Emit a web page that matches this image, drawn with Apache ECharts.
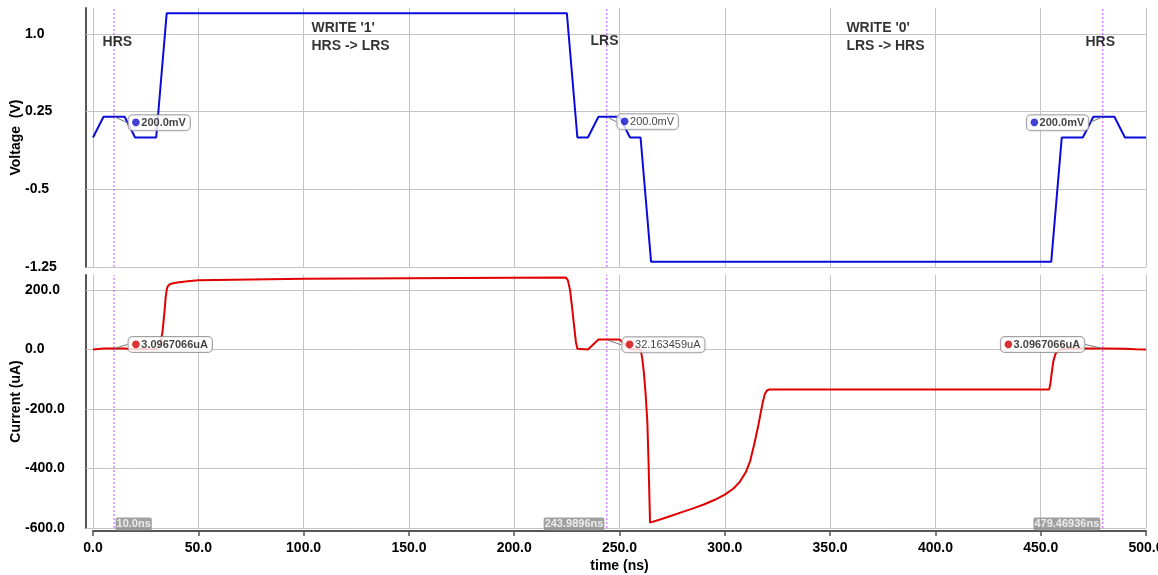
<!DOCTYPE html>
<html>
<head>
<meta charset="utf-8">
<script src="https://cdn.jsdelivr.net/npm/echarts@6/dist/echarts.min.js"></script>
<style>
    html, body { margin: 0; background: #fff; }
    #chart { width: 1158px; height: 575px; }
</style>
</head>
<body>
<div id="chart"></div>
<script>
(function () {
    'use strict';

    // voltage waveform (V) vs time (ns)
    var vTime = [0, 5, 15, 20, 30, 35, 225, 230, 235, 240, 250, 255, 260, 265, 455, 460, 470, 475, 485, 490, 500];
    var vVolt = [0, 0.2, 0.2, 0, 0, 1.2, 1.2, 0, 0, 0.2, 0.2, 0, 0, -1.2, -1.2, 0, 0, 0.2, 0.2, 0, 0];

    // current waveform (uA) vs time (ns)
    var iTime = [0, 5, 15, 20, 30, 31, 32, 33, 34, 34.5, 35, 35.5, 36.5, 38, 40, 45, 50, 100, 150, 200, 224.5,
        225.5, 226.5, 227.5, 228.5, 229.3, 230, 235, 240, 250, 255, 260, 260.8, 261.6, 262.4, 263.2, 263.8, 264.5,
        270, 275, 280, 285, 290, 295, 300, 304, 307, 310, 312, 314, 316, 318, 319, 320, 321,
        454, 454.6, 455.3, 456, 457, 458.5, 460, 470, 480, 490, 495, 500];
    var iCurr = [0, 3.1, 3.1, 0.5, 1, 5, 20, 60, 130, 175, 200, 212, 219, 222, 225, 229, 232, 237, 239, 241, 242,
        232, 200, 140, 75, 25, 2, 0, 33, 33, 1, 0, -30, -80, -150, -240, -380, -582,
        -570, -558, -546, -534, -521, -506, -488, -468, -446, -412, -376, -318, -252, -178, -150, -138, -135,
        -135, -115, -75, -40, -15, -3, 1, 3, 3.1, 2, 0.5, 0];

    // cursors
    var cursorTimes = [10.0, 243.9896, 479.46936];
    var cursorText = ['10.0ns', '243.9896ns', '479.46936ns'];
    var cursorVolt = [0.2, 0.2, 0.2];
    var cursorVoltText = ['200.0mV', '200.0mV', '200.0mV'];
    var cursorCurr = [3.0967066, 32.163459, 3.0967066];
    var cursorCurrText = ['3.0967066uA', '32.163459uA', '3.0967066uA'];
    var cursorBold = [true, false, true];

    // text notes in the voltage panel: [time, volt, text]
    var notes = [
        [4.3, 0.923, 'HRS'],
        [103.5, 0.971, "WRITE '1'\nHRS -> LRS"],
        [236, 0.933, 'LRS'],
        [357.5, 0.971, "WRITE '0'\nLRS -> HRS"],
        [471, 0.923, 'HRS']
    ];

    var vRange = [-1.25, 1.25];
    var iRange = [-600, 250];

    var BLUE = '#0b0bdc';
    var RED = '#e00000';
    var CURSOR = '#c050ff';
    var GRID = '#c4c4c4';
    var AXIS = '#555';
    var FONT = '"Liberation Sans", Arial, sans-serif';

    function pairs(xs, ys) {
        var out = [];
        for (var i = 0; i < xs.length; i++) {
            out.push([xs[i], ys[i]]);
        }
        return out;
    }

    function voltFmt(v) {
        return Number.isInteger(Math.round(v * 1000) / 100) ? v.toFixed(1) : v.toFixed(2);
    }

    var boldLabel = { fontFamily: FONT, fontSize: 14, fontWeight: 'bold', color: '#000' };

    function yAxis(idx, range, interval, name, fmt) {
        return {
            gridIndex: idx,
            type: 'value',
            min: range[0],
            max: range[1],
            interval: interval,
            offset: 7,
            name: name,
            nameLocation: 'middle',
            nameGap: 63,
            nameMoveOverlap: false,
            nameTextStyle: boldLabel,
            axisLine: { show: true, onZero: false, lineStyle: { color: AXIS, width: 2 } },
            axisTick: { show: true, inside: true, length: 7, lineStyle: { color: GRID } },
            axisLabel: Object.assign({ align: 'left', margin: 61, showMaxLabel: false, formatter: fmt }, boldLabel),
            splitLine: { show: true, showMaxLine: false, lineStyle: { color: GRID, width: 1 } }
        };
    }

    // vertical dotted cursor lines, one small line series per cursor and panel
    function cursorLines(idx, range) {
        return cursorTimes.map(function (t) {
            return {
                type: 'line',
                xAxisIndex: idx,
                yAxisIndex: idx,
                data: [[t, range[0]], [t, range[1]]],
                showSymbol: false,
                silent: true,
                z: 3,
                lineStyle: { color: CURSOR, type: [2, 2], width: 1 }
            };
        });
    }

    function callouts(idx, values, texts, color) {
        var offsets = [
            { dx: 14, dy: idx === 0 ? 6 : -4 },
            { dx: idx === 0 ? 10 : 15, dy: 5 },
            { dx: idx === 0 ? -14 : -18, dy: idx === 0 ? 6 : -4 }
        ];
        return {
            type: 'scatter',
            xAxisIndex: idx,
            yAxisIndex: idx,
            symbolSize: 1,
            itemStyle: { color: 'rgba(0,0,0,0)' },
            silent: true,
            z: 5,
            data: cursorTimes.map(function (t, k) {
                return {
                    value: [t, values[k]],
                    label: {
                        position: k === 2 ? 'left' : 'right',
                        formatter: '{d|\u25CF}{' + (cursorBold[k] ? 'b' : 'n') + '|' + texts[k] + '}'
                    }
                };
            }),
            label: {
                show: true,
                distance: 0,
                backgroundColor: '#fff',
                borderColor: '#8a8a8a',
                borderWidth: 1,
                borderRadius: 4,
                padding: [1, 4, 1, 3],
                rich: {
                    d: { color: color, fontSize: 10, fontFamily: 'DejaVu Sans', padding: [0, 1, 0, 0] },
                    b: { fontFamily: FONT, fontSize: 11, fontWeight: 'bold', color: '#111', lineHeight: 13 },
                    n: { fontFamily: FONT, fontSize: 11, color: '#111', lineHeight: 13 }
                }
            },
            labelLine: { show: true, lineStyle: { color: '#777', width: 1 } },
            labelLayout: function (p) { return offsets[p.dataIndex]; }
        };
    }

    var series = [
        {
            type: 'line', xAxisIndex: 0, yAxisIndex: 0,
            data: pairs(vTime, vVolt), showSymbol: false, z: 4,
            lineStyle: { color: BLUE, width: 2 }, itemStyle: { color: BLUE }
        },
        {
            type: 'line', xAxisIndex: 1, yAxisIndex: 1,
            data: pairs(iTime, iCurr), showSymbol: false, z: 4,
            lineStyle: { color: RED, width: 2 }, itemStyle: { color: RED }
        },
        callouts(0, cursorVolt, cursorVoltText, '#1010cc'),
        callouts(1, cursorCurr, cursorCurrText, '#d00000'),
        {
            // cursor time labels at bottom of current panel
            type: 'scatter', xAxisIndex: 1, yAxisIndex: 1,
            symbolSize: 1, itemStyle: { color: 'rgba(0,0,0,0)' }, silent: true, z: 6,
            data: cursorTimes.map(function (t, k) {
                return {
                    value: [t, iRange[0]],
                    label: {
                        position: k === 0 ? [2, -10] : [-2, -10],
                        align: k === 0 ? 'left' : 'right',
                        formatter: cursorText[k]
                    }
                };
            }),
            label: {
                show: true,
                verticalAlign: 'top',
                fontFamily: FONT, fontSize: 11, fontWeight: 'bold', color: '#fff',
                backgroundColor: '#8a8a8a', borderRadius: 2, padding: [1, 1, 1, 1]
            }
        },
        {
            type: 'scatter', xAxisIndex: 0, yAxisIndex: 0,
            symbolSize: 1, itemStyle: { color: 'rgba(0,0,0,0)' }, silent: true, z: 4,
            data: notes.map(function (n) {
                return { value: [n[0], n[1]], label: { formatter: n[2] } };
            }),
            label: {
                show: true, position: 'right', distance: 0,
                fontFamily: FONT, fontSize: 14, fontWeight: 'bold', color: '#000', lineHeight: 18
            }
        }
    ].concat(cursorLines(0, vRange), cursorLines(1, iRange));

    var option = {
        animation: false,
        backgroundColor: '#fff',
        grid: [
            { left: 93, right: 12, top: 8, height: 259, outerBoundsMode: 'none', containLabel: false },
            { left: 93, right: 12, top: 275, height: 253, outerBoundsMode: 'none', containLabel: false }
        ],
        xAxis: [
            {
                gridIndex: 0, type: 'value', min: 0, max: 500, interval: 50,
                axisLine: { show: false }, axisTick: { show: false }, axisLabel: { show: false },
                splitLine: { show: true, lineStyle: { color: GRID } }
            },
            {
                gridIndex: 1, type: 'value', min: 0, max: 500, interval: 50, offset: 3,
                name: 'time (ns)', nameLocation: 'middle', nameGap: 28, nameMoveOverlap: false,
                nameTextStyle: boldLabel,
                axisLine: { show: true, onZero: false, lineStyle: { color: AXIS, width: 2 } },
                axisTick: { show: true, length: 5, lineStyle: { color: AXIS, width: 1.5 } },
                axisLabel: Object.assign({ margin: 10, formatter: function (v) { return v.toFixed(1); } }, boldLabel),
                splitLine: { show: true, lineStyle: { color: GRID } }
            }
        ],
        yAxis: [
            yAxis(0, vRange, 0.75, 'Voltage  (V)', voltFmt),
            yAxis(1, iRange, 200, 'Current (uA)', function (v) { return v.toFixed(1); })
        ],
        series: series
    };

    var chart = echarts.init(document.getElementById('chart'), null, { renderer: 'canvas' });
    chart.setOption(option);
})();
</script>
</body>
</html>
